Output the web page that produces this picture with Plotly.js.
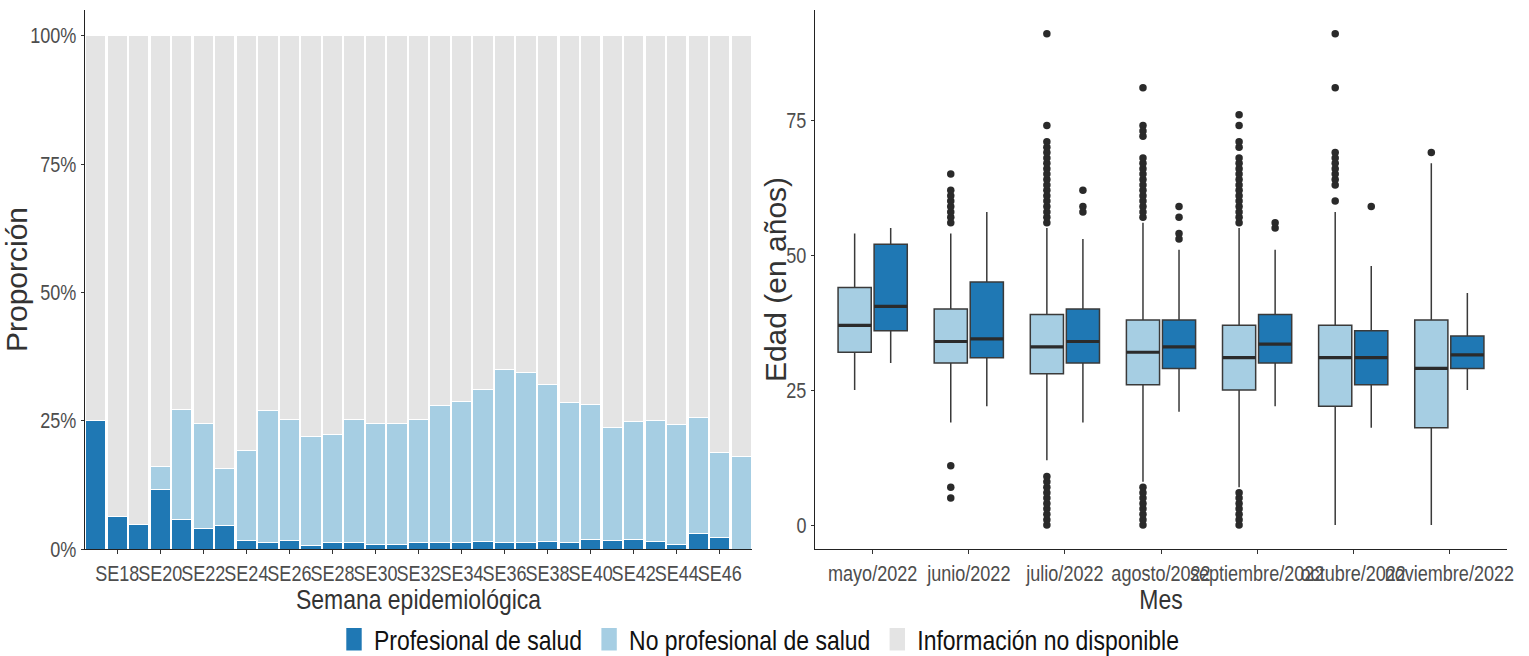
<!DOCTYPE html>
<html>
<head>
<meta charset="utf-8">
<script src="https://cdn.plot.ly/plotly-3.0.1.min.js"></script>
<style>html,body{margin:0;padding:0;background:#fff;}#chart{width:1529px;height:656px;}</style>
</head>
<body>
<div id="chart"></div>
<script>
// ---- Left panel: proportion by epidemiological week ----
const weeks = ['SE17','SE18','SE19','SE20','SE21','SE22','SE23','SE24','SE25','SE26','SE27','SE28','SE29','SE30','SE31','SE32','SE33','SE34','SE35','SE36','SE37','SE38','SE39','SE40','SE41','SE42','SE43','SE44','SE45','SE46','SE47'];
const weekTicks = ['SE18','SE20','SE22','SE24','SE26','SE28','SE30','SE32','SE34','SE36','SE38','SE40','SE42','SE44','SE46'];
const pctTickVals = [0,25,50,75,100];
const pctTickText = ['0%','25%','50%','75%','100%'];
const profesional = [25,6.3,4.7,11.5,5.7,3.9,4.5,1.6,1.2,1.6,0.6,1.2,1.2,0.8,0.8,1.3,1.2,1.2,1.5,1.2,1.2,1.4,1.2,1.8,1.6,1.8,1.4,0.8,3,2.3,0];
const noProfesional = [0,0,0,4.5,21.4,20.5,11.2,17.5,25.7,23.7,21.4,21.2,24.1,23.6,23.6,24,26.7,27.5,29.6,33.7,33.2,30.6,27.3,26.4,22.1,23.1,23.7,23.4,22.6,16.5,18.1];
const noDisponible = [75,93.7,95.3,84,72.9,75.6,84.3,80.9,73.1,74.7,78,77.6,74.7,75.6,75.6,74.7,72.1,71.3,68.9,65.1,65.6,68,71.5,71.8,76.3,75.1,74.9,75.8,74.4,81.2,81.9];

// ---- Right panel: age by month ----
const months = ['mayo/2022','junio/2022','julio/2022','agosto/2022','septiembre/2022','octubre/2022','noviembre/2022'];
const ageTickVals = [0,25,50,75];
// No profesional de salud
const npQ1 = [32,30,28,26,25,22,18];
const npMedian = [37,34,33,32,31,31,29];
const npQ3 = [44,40,39,38,37,37,38];
const npLower = [25,19,12,8,7,0,0];
const npUpper = [54,54,55,56,55,58,67];
// sample points per month (only those outside the whiskers are drawn)
const npPoints = [
  [37],
  [65,62,61,60,59,58,57,56,11,7,5],
  [91,74,71,70,69,68,67,66,65,64,63,62,61,60,59,58,57,56,9,8,7,6,5,4,3,2,1,0],
  [81,74,73,72,68,67,66,65,64,63,62,61,60,59,58,57,7,6,5,4,3,2,1,0],
  [76,74,71,70,68,67,66,65,64,63,62,61,60,59,58,57,56,6,5,4,3,2,1,0],
  [91,81,69,68,67,66,65,64,63,60],
  [69]
];
// Profesional de salud
const pQ1 = [36,31,30,29,30,26,29];
const pMedian = [40.5,34.5,34,33,33.5,31,31.5];
const pQ3 = [52,45,40,38,39,36,35];
const pLower = [30,22,19,21,22,18,25];
const pUpper = [55,58,53,51,51,48,43];
const pPoints = [[40.5],[34.5],[62,59,58],[59,57,54,53],[56,55],[59],[31.5]];

const DARK = '#1f78b4', LIGHT = '#a6cee3', GRAY = '#e4e4e4';
const FONT = '"Liberation Sans", Arial, sans-serif';
const NARROW_FACTOR = 0.82;

const barLine = {color: '#ffffff', width: 1};
const outlierMarker = {color: '#2a2a2a', size: 7.5, line: {width: 0}};
function boxTrace(name, group, fill, pts, q1, med, q3, lf, uf) {
  return {type: 'box', x: months, y: pts, q1: q1, median: med, q3: q3, lowerfence: lf, upperfence: uf,
    name: name, showlegend: false, offsetgroup: group, fillcolor: fill, line: {color: '#3a3a3a', width: 1.5},
    whiskerwidth: 0, boxpoints: 'outliers', jitter: 0, pointpos: 0, marker: outlierMarker,
    xaxis: 'x2', yaxis: 'y2', hoverinfo: 'skip'};
}
// thicker median bar drawn over each box (same slot via offsetgroup)
function medianTrace(group, med) {
  return {type: 'box', x: months, q1: med, median: med, q3: med, lowerfence: med, upperfence: med,
    showlegend: false, offsetgroup: group, fillcolor: 'rgba(0,0,0,0)', line: {color: '#2b2b2b', width: 3.2},
    whiskerwidth: 0, boxpoints: false, xaxis: 'x2', yaxis: 'y2', hoverinfo: 'skip'};
}
const traces = [
  {type: 'bar', x: weeks, y: profesional, name: 'Profesional de salud', marker: {color: DARK, line: barLine}, xaxis: 'x', yaxis: 'y', hoverinfo: 'skip'},
  {type: 'bar', x: weeks, y: noProfesional, name: 'No profesional de salud', marker: {color: LIGHT, line: barLine}, xaxis: 'x', yaxis: 'y', hoverinfo: 'skip'},
  {type: 'bar', x: weeks, y: noDisponible, name: 'Información no disponible', marker: {color: GRAY, line: barLine}, xaxis: 'x', yaxis: 'y', hoverinfo: 'skip'},
  boxTrace('No profesional de salud', 'np', LIGHT, npPoints, npQ1, npMedian, npQ3, npLower, npUpper),
  boxTrace('Profesional de salud', 'p', DARK, pPoints, pQ1, pMedian, pQ3, pLower, pUpper),
  medianTrace('np', npMedian),
  medianTrace('p', pMedian)
];

const tickFont = {family: FONT, size: 22, color: '#4d4d4d'};
const axTitleFont = {family: FONT, size: 28, color: '#333'};
const yTitleFont = {family: FONT, size: 30, color: '#333'};
const common = {showgrid: false, zeroline: false, showline: true, linecolor: '#222', linewidth: 1.2,
  ticks: 'outside', ticklen: 4, tickcolor: '#333', tickwidth: 1, tickfont: tickFont, tickangle: 0};

const layout = {
  width: 1529, height: 656,
  margin: {l: 0, r: 0, t: 10, b: 107, autoexpand: false},
  paper_bgcolor: '#fff', plot_bgcolor: '#fff',
  barmode: 'stack', bargap: 0.06,
  boxmode: 'group', boxgap: 0.25, boxgroupgap: 0.08,
  showlegend: true,
  legend: {orientation: 'h', xref: 'container', yref: 'container', x: 0.5, xanchor: 'center', y: 0.025, yanchor: 'middle',
    font: {family: FONT, size: 28, color: '#111'}, traceorder: 'normal', bgcolor: 'rgba(0,0,0,0)'},
  xaxis: Object.assign({}, common, {domain: [85/1529, 752/1529], type: 'category', range: [-0.5, 30.5],
    tickvals: weekTicks, ticktext: weekTicks, anchor: 'y',
    title: {text: 'Semana epidemiológica', font: axTitleFont, standoff: 6}}),
  yaxis: Object.assign({}, common, {range: [0, 105], tickvals: pctTickVals, ticktext: pctTickText, anchor: 'x', ticklen: 3,
    title: {text: 'Proporción', font: yTitleFont, standoff: 4}}),
  xaxis2: Object.assign({}, common, {domain: [815/1529, 1507/1529], type: 'category', range: [-0.6, 6.6], anchor: 'y2',
    title: {text: 'Mes', font: axTitleFont, standoff: 6}}),
  yaxis2: Object.assign({}, common, {range: [-4.44, 95.4], tickvals: ageTickVals, anchor: 'x2', ticklen: 3,
    title: {text: 'Edad (en años)', font: yTitleFont, standoff: 0}})
};

Plotly.newPlot('chart', traces, layout, {displayModeBar: false, staticPlot: true}).then(function(gd) {
  // condense horizontal text, like the reference's narrow lettering
  const sel = '.xtick text, .x2tick text, .ytick text, .y2tick text, .g-xtitle text, .g-x2title text, .legendtext';
  gd.querySelectorAll(sel).forEach(function(t) {
    const w = t.getComputedTextLength();
    if (w > 0) {
      t.setAttribute('textLength', (w * NARROW_FACTOR).toFixed(1));
      t.setAttribute('lengthAdjust', 'spacingAndGlyphs');
    }
  });
  // re-flow legend items after condensing their labels, centred under the figure
  const legend = gd.querySelector('.legend');
  if (legend) {
    legend.querySelectorAll('[clip-path]').forEach(function(n) { n.removeAttribute('clip-path'); });
    const items = Array.from(legend.querySelectorAll('.traces'));
    const SYM_TO_TEXT = 24, TEXT_TO_NEXT = 23;
    const widths = items.map(function(g) { return parseFloat(g.querySelector('.legendtext').getAttribute('textLength')); });
    const total = widths.reduce(function(a, w) { return a + SYM_TO_TEXT + w + TEXT_TO_NEXT; }, 0) - TEXT_TO_NEXT + 8;
    let cx = 1529 / 2 - total / 2 + 8;
    items.forEach(function(g, i) {
      const sym = g.querySelector('.legendpoints path') || g.querySelector('.legendpoints');
      const r = sym.getBoundingClientRect();
      const cur = r.left + r.width / 2;
      const m = /translate\(([-\d.]+)[ ,]+([-\d.]+)\)/.exec(g.getAttribute('transform') || 'translate(0,0)');
      const tx = parseFloat(m[1]) + (cx - cur), ty = parseFloat(m[2]);
      g.setAttribute('transform', 'translate(' + tx + ',' + ty + ')');
      cx += SYM_TO_TEXT + widths[i] + TEXT_TO_NEXT;
    });
    // taller key swatches, as in the reference (scaled about their own centre)
    legend.querySelectorAll('.legendpoints path').forEach(function(p) {
      const prev = p.getAttribute('transform') || '';
      p.setAttribute('transform', prev + ' scale(1.4,2.05)');
    });
  }
  // bring the right-hand y title closer to its tick labels
  const t2 = gd.querySelector('.g-y2title');
  if (t2) t2.setAttribute('transform', 'translate(14,0)');
});
</script>
</body>
</html>
